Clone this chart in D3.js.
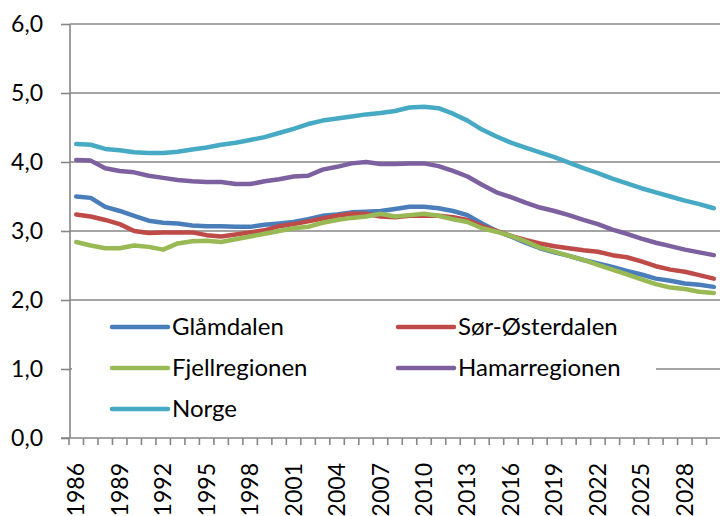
<!DOCTYPE html>
<html><head><meta charset="utf-8">
<script src="https://cdn.jsdelivr.net/npm/d3@7"></script>
<style>body{margin:0;background:#fff}svg{display:block}</style>
</head><body>
<svg id="c" width="720" height="516"></svg>
<script>
const years = d3.range(1986, 2031);
const seriesNames = ["Glåmdalen","Sør-Østerdalen","Fjellregionen","Hamarregionen","Norge"];
const seriesColors = ["#4A7EBB","#BE4B48","#98B954","#7D60A0","#46AAC5"];
const glamdalen = [3.50,3.48,3.35,3.29,3.22,3.15,3.12,3.11,3.08,3.07,3.07,3.06,3.06,3.09,3.11,3.13,3.17,3.22,3.24,3.27,3.28,3.29,3.32,3.35,3.35,3.33,3.29,3.23,3.11,3.00,2.92,2.83,2.75,2.69,2.64,2.58,2.53,2.48,2.42,2.37,2.31,2.28,2.24,2.22,2.19];
const sorOsterdalen = [3.24,3.21,3.16,3.10,3.00,2.97,2.98,2.98,2.98,2.94,2.92,2.95,2.98,3.01,3.07,3.10,3.14,3.18,3.22,3.25,3.25,3.21,3.20,3.22,3.22,3.22,3.20,3.16,3.07,3.00,2.93,2.87,2.82,2.78,2.75,2.72,2.70,2.65,2.62,2.56,2.49,2.44,2.41,2.36,2.31];
const fjellregionen = [2.84,2.79,2.75,2.75,2.79,2.77,2.73,2.82,2.85,2.86,2.84,2.88,2.92,2.96,3.00,3.04,3.06,3.12,3.16,3.19,3.21,3.25,3.21,3.23,3.25,3.22,3.17,3.13,3.04,2.99,2.93,2.85,2.76,2.70,2.64,2.58,2.51,2.44,2.37,2.30,2.23,2.18,2.16,2.12,2.10];
const hamarregionen = [4.03,4.02,3.91,3.87,3.85,3.80,3.77,3.74,3.72,3.71,3.71,3.68,3.68,3.72,3.75,3.79,3.80,3.89,3.93,3.98,4.00,3.97,3.97,3.98,3.98,3.94,3.87,3.79,3.67,3.56,3.49,3.41,3.34,3.29,3.23,3.16,3.10,3.02,2.96,2.89,2.83,2.78,2.73,2.69,2.65];
const norge = [4.26,4.25,4.19,4.17,4.14,4.13,4.13,4.15,4.18,4.21,4.25,4.28,4.32,4.36,4.42,4.48,4.55,4.60,4.63,4.66,4.69,4.71,4.74,4.79,4.80,4.78,4.70,4.60,4.47,4.37,4.28,4.21,4.14,4.07,3.99,3.91,3.84,3.76,3.69,3.62,3.56,3.50,3.44,3.39,3.33];
const seriesValues = [glamdalen, sorOsterdalen, fjellregionen, hamarregionen, norge];
const yTicks = [0,1,2,3,4,5,6];
const xLabelYears = years.filter((y,i)=> i%3===0);

const svg = d3.select("#c");
const font = "Lato, 'Open Sans', sans-serif";
const mLeft = 70, mTop = 24, mBottom = 438, bandW = 14.49;
const x = d3.scaleBand().domain(years).range([mLeft-1, mLeft-1 + years.length*bandW]).padding(0);
const y = d3.scaleLinear().domain([0,6]).range([mBottom, mTop]);
const grey = "#868686";

// gridlines
svg.append("g").selectAll("line").data(yTicks.filter(d=>d>0)).join("line")
  .attr("x1", mLeft).attr("x2", 720).attr("y1", d=>y(d)).attr("y2", d=>y(d))
  .attr("stroke", grey).attr("stroke-width", 1.6);

// y axis
const yAxis = svg.append("g").attr("transform", `translate(${mLeft},0)`)
  .call(d3.axisLeft(y).tickValues(yTicks).tickSize(9).tickPadding(18)
    .tickFormat(d=>d3.format(".1f")(d).replace(".", ",")));
yAxis.select(".domain").attr("stroke", grey).attr("stroke-width", 1.6).attr("d", `M0,${mTop}V${mBottom}`);
yAxis.selectAll(".tick line").attr("stroke", grey).attr("stroke-width", 1.6);
yAxis.selectAll(".tick text").attr("font-family", font).attr("font-size", 23).attr("fill", "#000");

// x axis line
svg.append("line").attr("x1", mLeft-9).attr("x2", 720).attr("y1", mBottom).attr("y2", mBottom)
  .attr("stroke", grey).attr("stroke-width", 1.6);
// x ticks at category boundaries
svg.append("g").selectAll("line").data(years).join("line")
  .attr("x1", d=>x(d)).attr("x2", d=>x(d)).attr("y1", mBottom).attr("y2", mBottom+7)
  .attr("stroke", grey).attr("stroke-width", 1.6);
// x labels
svg.append("g").selectAll("text").data(xLabelYears).join("text")
  .attr("transform", d=>`translate(${x(d)+x.bandwidth()/2+8},${mBottom+25}) rotate(-90)`)
  .attr("text-anchor", "end").attr("font-family", font).attr("font-size", 23).attr("fill", "#000")
  .text(d=>d);

// lines
const line = d3.line().x((d,i)=>x(years[i])+x.bandwidth()/2).y(d=>y(d));
svg.append("g").selectAll("path").data(seriesValues).join("path")
  .attr("d", d=>line(d)).attr("fill","none")
  .attr("stroke", (d,i)=>seriesColors[i]).attr("stroke-width", 4.5)
  .attr("stroke-linejoin","round").attr("stroke-linecap","round");

// legend
const lg = svg.append("g");
lg.append("rect").attr("x", mLeft+2).attr("y", 306).attr("width", 584).attr("height", 126).attr("fill","#fff");
const legendPos = [[112,327],[398,327],[112,368],[398,368],[112,409]];
const items = lg.selectAll("g").data(seriesNames).join("g")
  .attr("transform", (d,i)=>`translate(${legendPos[i][0]},${legendPos[i][1]})`);
items.append("line").attr("x1",0).attr("x2",56).attr("y1",0).attr("y2",0)
  .attr("stroke",(d,i)=>seriesColors[i]).attr("stroke-width",4.5).attr("stroke-linecap","round");
items.append("text").attr("x",60).attr("y",0).attr("dy","0.35em")
  .attr("font-family", font).attr("font-size", 24).attr("fill","#000").text(d=>d);
</script>
</body></html>
